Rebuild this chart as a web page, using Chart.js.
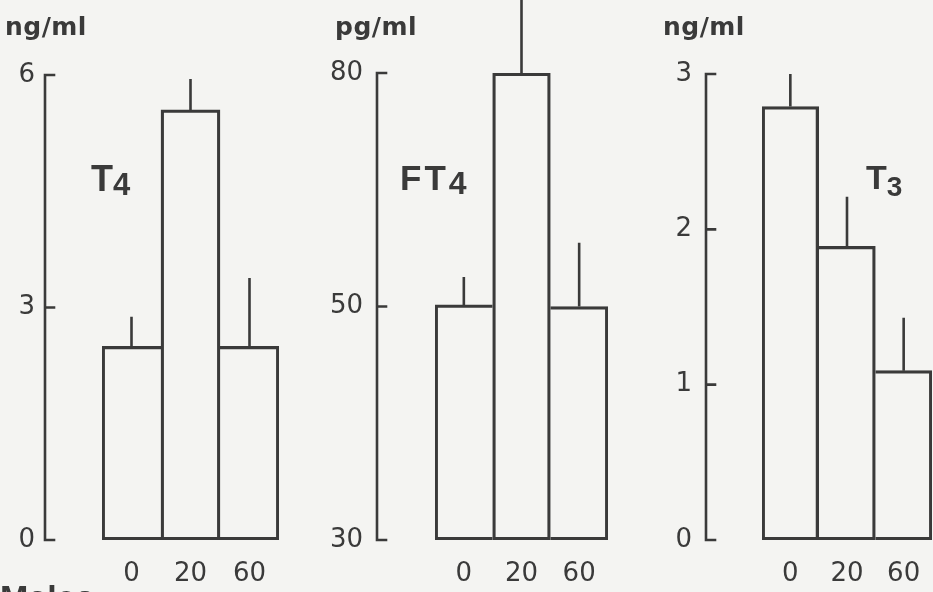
<!DOCTYPE html>
<html>
<head>
<meta charset="utf-8">
<script src="https://cdn.jsdelivr.net/npm/chart.js@4.4.1/dist/chart.umd.min.js"></script>
<style>
  html, body { margin: 0; padding: 0; }
  body { width: 933px; height: 592px; overflow: hidden; background: #f4f4f2; position: relative; }
  canvas { position: absolute; top: 0; }
  .txt { position: absolute; color: #3a3a3a; white-space: nowrap; line-height: 1; }
  .unit { font: bold 25px "DejaVu Sans", sans-serif; top: 12px; letter-spacing: 0.5px; }
  .name { font: bold 35px "Liberation Sans", Arial, sans-serif; top: 158px; }
  .name span { position: relative; }
  .males { font: bold 34px "Liberation Sans", Arial, sans-serif; left: 0; top: 578px; }
</style>
</head>
<body>
<canvas id="t4" width="300" height="592" style="left:0"></canvas>
<canvas id="ft4" width="320" height="592" style="left:300px"></canvas>
<canvas id="t3" width="313" height="592" style="left:620px"></canvas>

<div class="txt unit" style="left:5px">ng/ml</div>
<div class="txt unit" style="left:335px">pg/ml</div>
<div class="txt unit" style="left:663px">ng/ml</div>

<div class="txt name" style="left:91px;font-size:36px">T<span style="font-size:31px;top:4px">4</span></div>
<div class="txt name" style="left:400px;letter-spacing:3px">FT<span style="font-size:32px;top:4px">4</span></div>
<div class="txt name" style="left:866px;font-size:34px">T<span style="font-size:28px;top:7px">3</span></div>

<div class="txt males">Males</div>

<script>
// dose groups on the x axis
const doses = ['0', '20', '60'];

// T4, ng/ml
const t4Means = [2.5, 5.55, 2.5];
const t4Errors = [0.38, 0.4, 0.88];
const t4Ticks = [0, 3, 6];

// FT4, pg/ml (axis breaks 30 / 50 / 80 are evenly spaced in the original)
const ft4Means = [50.2, 80, 50];
const ft4Errors = [3.6, 11, 8.2];
const ft4Ticks = [30, 50, 80];

// T3, ng/ml
const t3Means = [2.79, 1.89, 1.09];
const t3Errors = [0.21, 0.32, 0.34];
const t3Ticks = [0, 1, 2, 3];

const ink = '#3a3a3a';
const lineW = 2.6;

/**
 * Linear scale where every tick interval gets the same height
 * (the FT4 panel puts 30, 50 and 80 at equal spacing)
 */
class PiecewiseScale extends Chart.LinearScale {
  static id = 'piecewise';
  static defaults = Chart.LinearScale.defaults;

  buildTicks() {
    return this.options.breaks.map(v => ({ value: v }));
  }

  getPixelForValue(value) {
    const b = this.options.breaks;
    let i = 0;
    while (i < b.length - 2 && value > b[i + 1]) i++;
    const frac = (i + (value - b[i]) / (b[i + 1] - b[i])) / (b.length - 1);
    return this.getPixelForDecimal(frac);
  }

  getValueForPixel(pixel) {
    const b = this.options.breaks;
    const pos = this.getDecimalForPixel(pixel) * (b.length - 1);
    const i = Math.min(Math.max(Math.floor(pos), 0), b.length - 2);
    return b[i] + (pos - i) * (b[i + 1] - b[i]);
  }
}
Chart.register(PiecewiseScale);

// y axis line with short inward ticks, set off to the left of the bars
const sideAxis = {
  id: 'sideAxis',
  afterDraw(chart, args, opts) {
    const y = chart.scales.y;
    const ctx = chart.ctx;
    const x0 = chart.chartArea.left - opts.gap;
    ctx.save();
    ctx.strokeStyle = ink;
    ctx.lineWidth = lineW;
    ctx.lineCap = 'square';
    ctx.beginPath();
    ctx.moveTo(x0, y.getPixelForValue(y.min));
    ctx.lineTo(x0, y.getPixelForValue(y.max));
    y.ticks.forEach(t => {
      const py = y.getPixelForValue(t.value);
      ctx.moveTo(x0, py);
      ctx.lineTo(x0 + 9, py);
    });
    ctx.stroke();
    ctx.restore();
  },
};

// one-sided error bars (upwards only, no cap)
const errorBars = {
  id: 'errorBars',
  afterDatasetsDraw(chart) {
    const ds = chart.data.datasets[0];
    const y = chart.scales.y;
    const ctx = chart.ctx;
    ctx.save();
    ctx.strokeStyle = ink;
    ctx.lineWidth = lineW;
    ctx.beginPath();
    chart.getDatasetMeta(0).data.forEach((bar, i) => {
      ctx.moveTo(bar.x, bar.y);
      ctx.lineTo(bar.x, y.getPixelForValue(ds.data[i] + ds.errors[i]));
    });
    ctx.stroke();
    ctx.restore();
  },
};

// adjoining bars share one edge: the taller bar keeps it
function sharedEdge(ctx) {
  const d = ctx.dataset.data;
  const i = ctx.dataIndex;
  if (i > 0 && d[i - 1] >= d[i]) return 'left';
  if (i < d.length - 1 && d[i + 1] > d[i]) return 'right';
  return false;
}

function makePanel(id, means, errors, ticks, g) {
  return new Chart(document.getElementById(id), {
    type: 'bar',
    data: {
      labels: doses,
      datasets: [{
        data: means,
        errors: errors,
        base: ticks[0],
        backgroundColor: 'rgba(0,0,0,0)',
        borderColor: ink,
        borderWidth: lineW,
        borderSkipped: sharedEdge,
        categoryPercentage: 1,
        barPercentage: 1,
      }],
    },
    options: {
      responsive: false,
      animation: false,
      events: [],
      layout: { padding: { top: g.top, right: g.right, left: 0, bottom: 0 } },
      plugins: {
        legend: { display: false },
        tooltip: { enabled: false },
        sideAxis: { gap: g.gap },
      },
      scales: {
        x: {
          grid: { display: false, drawTicks: false },
          border: { display: false },
          ticks: {
            color: ink,
            padding: 19,
            font: { family: 'DejaVu Sans', size: 26 },
          },
          afterFit: s => {
            s.height = 52;
            s.paddingLeft = 0;
            s.paddingRight = 0;
          },
        },
        y: {
          type: 'piecewise',
          breaks: ticks,
          min: ticks[0],
          max: ticks[ticks.length - 1],
          grid: { display: false, drawTicks: false },
          border: { display: false },
          ticks: {
            color: ink,
            padding: g.labelPad,
            font: { family: 'DejaVu Sans', size: 26 },
            callback: v => String(v),
          },
          afterFit: s => {
            s.width = g.axisWidth;
            s.paddingTop = 0;
            s.paddingBottom = 0;
          },
        },
      },
    },
    plugins: [sideAxis, errorBars],
  });
}

makePanel('t4', t4Means, t4Errors, t4Ticks, { top: 75, right: 21, axisWidth: 102, labelPad: 67, gap: 57 });
makePanel('ft4', ft4Means, ft4Errors, ft4Ticks, { top: 73, right: 12, axisWidth: 135, labelPad: 72, gap: 58 });
makePanel('t3', t3Means, t3Errors, t3Ticks, { top: 74, right: 1, axisWidth: 142, labelPad: 70, gap: 56 });
</script>
</body>
</html>
